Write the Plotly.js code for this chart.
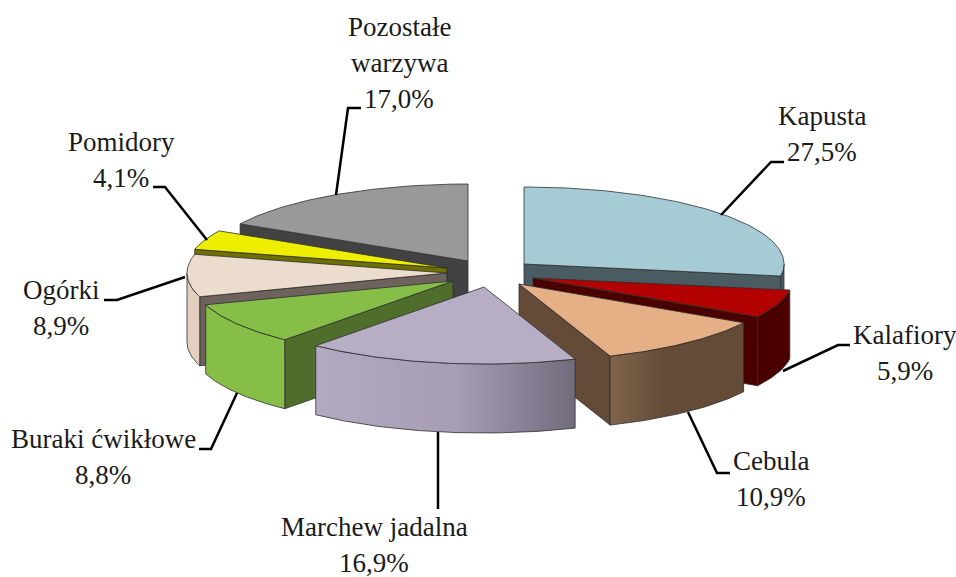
<!DOCTYPE html>
<html>
<head>
<meta charset="utf-8">
<script src="https://cdn.plot.ly/plotly-3.0.1.min.js"></script>
<style>html,body{margin:0;padding:0;background:#fff}#c{width:956px;height:577px}</style>
</head>
<body>
<div id="c"></div>
<script>
// Data, clockwise from 12 o'clock
const categories = ["Kapusta","Kalafiory","Cebula","Marchew jadalna","Buraki ćwikłowe","Ogórki","Pomidory","Pozostałe<br>warzywa"];
const shares = [27.5,5.9,10.9,16.9,8.8,8.9,4.1,17.0];

// Styles
const topColors  = ["#a5cbd5","#b30000","#e6b086","#b7aec5","#86be48","#ebdccd","#eeee00","#999999"];
const sideColors = ["#4a5c62","#4a0000","#634b38","#6d6778","#4f6e2b","#6d635c","#6f6f00","#424242"];
const outerScales = [
  [[0,"#4a5c62"],[1,"#4a5c62"]],
  [[0,"#4a0000"],[1,"#4a0000"]],
  [[0,"#80654b"],[0.4,"#644c39"],[1,"#634b38"]],
  [[0,"#b3a9c0"],[0.55,"#a69db5"],[1,"#716b7c"]],
  [[0,"#86be48"],[1,"#86be48"]],
  [[0,"#e2cfbf"],[1,"#e2cfbf"]],
  [[0,"#6f6f00"],[1,"#6f6f00"]],
  [[0,"#424242"],[1,"#424242"]]
];
// Layout of the exploded pie
const apexX = [524,533,519,484,453,447,447,468];
const apexY = [264,278,284,287,281,273,268,261];
const radiusX = 260, radiusY = 77, depth = 69;
const drawOrder = [7,0,6,5,1,4,2,3];
const EDGE = "#2e2e2e";

// Label placement
const labelX = [822,905,771,374,103,61,121,399];
const labelLastBaseline = [161,380,506,572,484,335,187,108];
const lineGap = 36;
const leaderX = [[721,771,784],[783,838,850],[688,717,730],[438,438],[237,211,199],[185,117,104],[207,165,153],[336,348,361]];
const leaderY = [[215,162,162],[371,345,345],[412,473,473],[432,509],[393,449,449],[277,300,300],[240,187,187],[195,108,108]];

const rad = d => d*Math.PI/180;
const pt = (i,deg) => [apexX[i]+radiusX*Math.sin(rad(deg)), apexY[i]-radiusY*Math.cos(rad(deg))];
function arc(i,a,b){const o=[];const n=Math.max(2,Math.ceil(Math.abs(b-a)));for(let k=0;k<=n;k++)o.push(pt(i,a+(b-a)*k/n));return o;}
function poly(points,color,scale,name){
  const t={type:"scatter",mode:"lines",x:points.map(p=>p[0]).concat(points[0][0]),y:points.map(p=>p[1]).concat(points[0][1]),
    fill:"toself",fillcolor:color,line:{color:EDGE,width:0.8},hoverinfo:"skip",showlegend:false,name:name};
  if(scale)t.fillgradient={type:"horizontal",colorscale:scale};
  return t;
}
const total = shares.reduce((a,b)=>a+b,0);
const starts=[];let acc=0;shares.forEach(v=>{starts.push(acc/total*360);acc+=v;});
const traces=[];
drawOrder.forEach(i=>{
  const a=starts[i], b=a+shares[i]/total*360, nm=categories[i].replace("<br>"," ");
  const A=[apexX[i],apexY[i]], down=p=>[p[0],p[1]+depth];
  const pa=pt(i,a), pb=pt(i,b);
  // only the radial walls that face the viewer
  if(Math.sin(rad(a))<0) traces.push(poly([A,pa,down(pa),down(A)],sideColors[i],null,nm));
  if(Math.sin(rad(b))>0) traces.push(poly([A,pb,down(pb),down(A)],sideColors[i],null,nm));
  const lo=Math.max(a,90), hi=Math.min(b,270);
  if(hi>lo){const rim=arc(i,lo,hi);traces.push(poly(rim.concat(rim.slice().reverse().map(down)),outerScales[i][0][1],outerScales[i],nm));}
  traces.push(poly([A].concat(arc(i,a,b)),topColors[i],null,nm));
});
categories.forEach((c,i)=>traces.push({type:"scatter",mode:"lines",x:leaderX[i],y:leaderY[i],
  line:{color:"#000",width:2.5},hoverinfo:"skip",showlegend:false}));

const annotations=[];
categories.forEach((c,i)=>{
  const lines=c.split("<br>").concat(shares[i].toFixed(1).replace(".",",")+"%");
  lines.forEach((txt,k)=>annotations.push({x:labelX[i],y:labelLastBaseline[i]-(lines.length-1-k)*lineGap,
    xref:"x",yref:"y",text:txt,showarrow:false,xanchor:"center",yanchor:"bottom",yshift:-8,
    font:{family:"'Liberation Serif','Times New Roman',serif",size:27,color:"#1a1a1a"}}));
});
Plotly.newPlot("c",traces,{
  width:956,height:577,margin:{l:0,r:0,t:0,b:0},paper_bgcolor:"#fff",plot_bgcolor:"#fff",showlegend:false,
  xaxis:{range:[0,956],visible:false,fixedrange:true},
  yaxis:{range:[577,0],visible:false,fixedrange:true},
  annotations:annotations
},{displayModeBar:false,staticPlot:true});
</script>
</body>
</html>
